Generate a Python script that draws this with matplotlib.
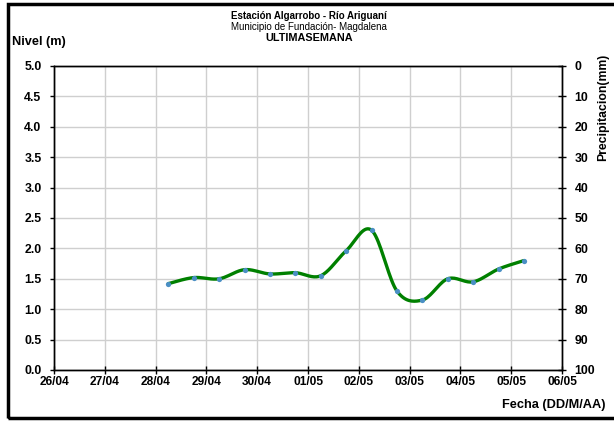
import numpy as np
import matplotlib
matplotlib.use("Agg")
import matplotlib.pyplot as plt
from matplotlib.patches import Rectangle

plt.rcParams['font.family'] = ['Liberation Sans', 'DejaVu Sans']

# ---- data ----
tick_labels = ["26/04", "27/04", "28/04", "29/04", "30/04", "01/05",
               "02/05", "03/05", "04/05", "05/05", "06/05"]
# observation times in days after 26/04 00:00 (06:00 and 18:00 readings)
obs_days = [2.25, 2.75, 3.25, 3.75, 4.25, 4.75, 5.25, 5.75, 6.25,
            6.75, 7.25, 7.75, 8.25, 8.75, 9.25]
nivel = [1.42, 1.52, 1.50, 1.65, 1.58, 1.60, 1.55, 1.96, 2.30,
         1.30, 1.15, 1.50, 1.45, 1.66, 1.80]
left_ticks = [0.0, 0.5, 1.0, 1.5, 2.0, 2.5, 3.0, 3.5, 4.0, 4.5, 5.0]
right_ticks = [0, 10, 20, 30, 40, 50, 60, 70, 80, 90, 100]


def smooth(x, y, n=20):
    """Excel-like smoothed line (Catmull-Rom Bezier)."""
    x = np.asarray(x, float); y = np.asarray(y, float)
    P = np.column_stack([x, y])
    out = [P[0]]
    for i in range(len(P) - 1):
        p0 = P[i - 1] if i > 0 else P[i]
        p1 = P[i]; p2 = P[i + 1]
        p3 = P[i + 2] if i + 2 < len(P) else P[i + 1]
        c1 = p1 + (p2 - p0) / 6.0
        c2 = p2 - (p3 - p1) / 6.0
        t = np.linspace(0, 1, n)[1:, None]
        seg = ((1 - t) ** 3) * p1 + 3 * ((1 - t) ** 2) * t * c1 + \
              3 * (1 - t) * t ** 2 * c2 + t ** 3 * p2
        out.extend(seg)
    out = np.array(out)
    return out[:, 0], out[:, 1]


fig = plt.figure(figsize=(6.14, 4.22), dpi=100)
ax = fig.add_axes([54 / 614, 1 - 370 / 422, (562 - 54) / 614, (370 - 66) / 422])

ax.set_xlim(0, 10)
ax.set_ylim(0, 5)
ax.set_xticks(range(len(tick_labels)))
ax.set_xticklabels(tick_labels)
ax.set_yticks(left_ticks)
ax.set_yticklabels([f"{v:.1f}" for v in left_ticks])
ax.grid(True, color="#cfcfcf", linewidth=1.0)
ax.set_axisbelow(True)

for s in ax.spines.values():
    s.set_color("black")
    s.set_linewidth(1.0)

ax.tick_params(axis='x', direction='inout', length=6, width=1, pad=1,
               labelsize=8.6)
ax.tick_params(axis='y', direction='out', length=3, width=1, pad=6,
               labelsize=8.8)
for lab in ax.get_xticklabels() + ax.get_yticklabels():
    lab.set_fontweight('bold')

sx, sy = smooth(obs_days, nivel)
ax.plot(sx, sy, color="#008000", linewidth=2.4, solid_capstyle='round',
        zorder=3)
ax.plot(obs_days, nivel, linestyle='none', marker='o', markersize=3.8,
        color="#4a8fc4", markeredgewidth=0, zorder=4)

ax2 = ax.twinx()
ax2.set_ylim(100, 0)
ax2.set_yticks(right_ticks)
ax2.set_yticklabels([str(v) for v in right_ticks])
ax2.tick_params(axis='y', direction='inout', length=6, width=1, pad=6,
                labelsize=8.8)
for lab in ax2.get_yticklabels():
    lab.set_fontweight('bold')
for s in ax2.spines.values():
    s.set_color("black")
    s.set_linewidth(1.0)

# texts
fig.text(309 / 614, 1 - 16 / 422, "Estación Algarrobo - Río Ariguaní",
         ha='center', va='center', fontsize=7, fontweight='bold')
fig.text(309 / 614, 1 - 27 / 422, "Municipio de Fundación- Magdalena",
         ha='center', va='center', fontsize=7)
fig.text(309 / 614, 1 - 38 / 422, "ULTIMASEMANA",
         ha='center', va='center', fontsize=7.8, fontweight='bold')
fig.text(12 / 614, 1 - 42 / 422, "Nivel (m)", ha='left', va='center',
         fontsize=9.2, fontweight='bold')
fig.text(603 / 614, 1 - 107 / 422, "Precipitacion(mm)", ha='center',
         va='center', rotation=90, fontsize=8.8, fontweight='bold')
fig.text(605 / 614, 1 - 405 / 422, "Fecha (DD/M/AA)", ha='right',
         va='center', fontsize=9.2, fontweight='bold')

# outer frame
fig.patches.append(Rectangle((8 / 614, 4 / 422), 1.0, 414 / 422,
                             transform=fig.transFigure, fill=False,
                             edgecolor='black', linewidth=2.5))

fig.savefig("out.png", dpi=100)
